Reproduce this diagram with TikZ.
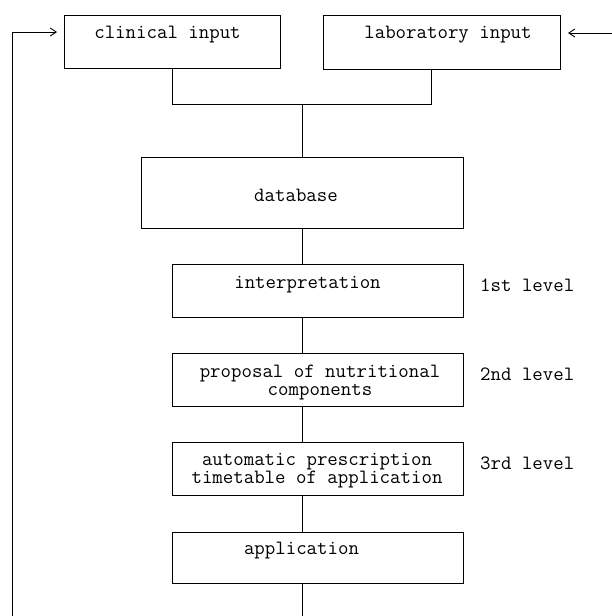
\documentclass[tikz,border=0pt]{standalone}
\usepackage{fontspec}
\usetikzlibrary{arrows.meta}
\begin{document}
\begin{tikzpicture}[x=1pt,y=-1pt,
  box/.style={draw, line width=0.9pt, inner sep=0pt, outer sep=0pt},
  txt/.style={font=\ttfamily\fontsize{20.3}{18}\selectfont, inner sep=0pt, align=center},
  conn/.style={line width=0.9pt},
  tipline/.style={line width=0.9pt, -{Straight Barb[length=6pt,width=8pt,line width=0.9pt]}}]
\useasboundingbox (0,0) rectangle (612,616);
% boxes
\node[box, minimum width=216pt, minimum height=53pt] (clin) at (172,41.5) {};
\node[box, minimum width=237pt, minimum height=54pt] (lab) at (441.5,42) {};
\node[box, minimum width=322pt, minimum height=71pt] (db) at (302,192.5) {};
\node[box, minimum width=291pt, minimum height=53pt] (interp) at (317.5,290.5) {};
\node[box, minimum width=291pt, minimum height=53pt] (prop) at (317.5,379.5) {};
\node[box, minimum width=291pt, minimum height=53pt] (auto) at (317.5,468.5) {};
\node[box, minimum width=291pt, minimum height=51pt] (app) at (317.5,557.5) {};
% texts
\node[txt] (tclin) at (167.5,35) {clinical input};
\node[txt] (tlab) at (448,35) {laboratory input};
\node[txt] (tdb) at (296,195) {database};
\node[txt] (tinterp) at (307.5,285) {interpretation};
\node[txt] (tprop) at (320,382) {proposal of nutritional\\components};
\node[txt] (tauto) at (317,470.5) {automatic prescription\\timetable of application};
\node[txt] (tapp) at (301.5,551) {application};
\node[txt, anchor=west] (l1) at (480,285) {1st level};
\node[txt, anchor=west] (l2) at (480,374) {2nd level};
\node[txt, anchor=west] (l3) at (480,463) {3rd level};
% connectors
\coordinate (spine) at (302,104);
\coordinate (labx) at (431,104);
\coordinate (bot) at (302,616);
\coordinate (fb) at (12,616);
\coordinate (rin) at (612,33);
\draw[conn] (labx |- lab.south) -- (labx) -- (clin.south |- labx) -- (clin.south);
\draw[conn] (spine) -- (db.north -| spine);
\draw[conn] (db.south -| spine) -- (interp.north -| spine);
\draw[conn] (interp.south -| spine) -- (prop.north -| spine);
\draw[conn] (prop.south -| spine) -- (auto.north -| spine);
\draw[conn] (auto.south -| spine) -- (app.north -| spine);
\draw[conn] (app.south -| spine) -- (bot);
\draw[tipline] (fb) |- ([xshift=-7pt,yshift=9.5pt]clin.west);
\draw[tipline] (rin) -- ([xshift=8pt,yshift=9pt]lab.east);
\end{tikzpicture}
\end{document}
